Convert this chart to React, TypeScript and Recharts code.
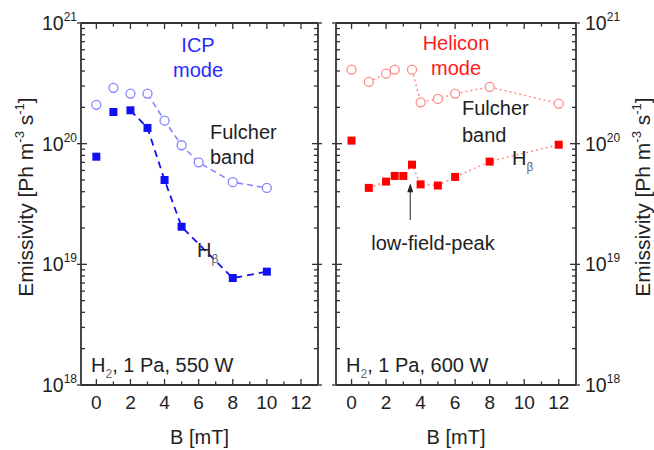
import { ComposedChart, Line, Scatter, XAxis, YAxis, ReferenceLine, Label } from 'recharts'

// ICP mode (550 W)
const icpFulcherB = [0, 1, 2, 3, 4, 5, 6, 8, 10]
const icpFulcher = [2.1e20, 2.9e20, 2.6e20, 2.6e20, 1.55e20, 9.7e19, 7.0e19, 4.8e19, 4.3e19]
const icpHbetaB = [0, 1, 2, 3, 4, 5, 8, 10]
const icpHbeta = [7.8e19, 1.83e20, 1.89e20, 1.35e20, 5.0e19, 2.05e19, 7.7e18, 8.7e18]

// Helicon mode (600 W)
const helFulcherB = [0, 1, 2, 2.5, 3.5, 4, 5, 6, 8, 12]
const helFulcher = [4.1e20, 3.25e20, 3.8e20, 4.1e20, 4.1e20, 2.2e20, 2.35e20, 2.6e20, 2.95e20, 2.15e20]
const helHbetaB = [0, 1, 2, 2.5, 3, 3.5, 4, 5, 6, 8, 12]
const helHbeta = [1.06e20, 4.3e19, 4.85e19, 5.4e19, 5.4e19, 6.7e19, 4.6e19, 4.5e19, 5.3e19, 7.1e19, 9.8e19]

// low-field-peak arrow (B, tail, tip)
const arrowB = 3.4
const arrowY = [2.33e19, 4.7e19]

const xTicks = [0, 1, 2, 3, 4, 5, 6, 7, 8, 9, 10, 11, 12]
const yTicks: number[] = []
for (let e = 18; e < 21; e++) for (let m = 1; m < 10; m++) yTicks.push(m * Math.pow(10, e))
yTicks.push(1e21)

const FONT = '"Liberation Sans", Arial, sans-serif'
const AXIS = '#333'
const BLUE = '#1010f5'
const LBLUE = '#8585ff'
const RED = '#ff0000'
const LRED = '#ff8c8c'

const pts = (xs: number[], ys: number[], from = 0, to = xs.length) =>
  xs.slice(from, to).map((x, i) => ({ x, y: ys[from + i] }))

const square = (color: string) => (p: any) =>
  <rect x={p.cx - 4} y={p.cy - 4} width={8} height={8} fill={color} />
const ring = (color: string) => (p: any) =>
  <circle cx={p.cx} cy={p.cy} r={4.5} fill="#fff" stroke={color} strokeWidth={1.3} />

function YTick({ x, y, payload, side, labels }: any) {
  const lg = Math.log10(payload.value)
  const exp = Math.round(lg)
  const major = Math.abs(lg - exp) < 1e-6
  const dir = side === 'left' ? 1 : -1
  return (
    <g>
      <line x1={major ? x - dir * 4 : x} x2={x + dir * (major ? 6 : 4)} y1={y} y2={y} stroke={AXIS} strokeWidth={1.3} />
      {labels && major && (
        <text x={side === 'left' ? x - 4 : x + 9} y={y + 7} textAnchor={side === 'left' ? 'end' : 'start'}
          fontSize={19.5} fill="#222" fontFamily={FONT}>
          10<tspan dy={-9} fontSize={12}>{exp}</tspan>
        </text>
      )}
    </g>
  )
}

function XTick({ x, y, payload, side, labels }: any) {
  const major = payload.value % 2 === 0
  const dir = side === 'bottom' ? -1 : 1
  return (
    <g>
      <line x1={x} x2={x} y1={y} y2={y + dir * (major ? 6 : 3.5)} stroke={AXIS} strokeWidth={1.3} />
      {labels && major && (
        <text x={x} y={y + 24} textAnchor="middle" fontSize={19} fill="#222" fontFamily={FONT}>{payload.value}</text>
      )}
    </g>
  )
}

function YTitle({ viewBox, side }: any) {
  const cx = side === 'left' ? viewBox.x + 33 : viewBox.x + viewBox.width - 4
  const cy = 197
  return (
    <text x={cx} y={cy} transform={`rotate(-90, ${cx}, ${cy})`} textAnchor="middle" fontSize={21} fill="#222" fontFamily={FONT}>
      Emissivity [Ph m<tspan dy={-9} fontSize={13}>-3</tspan><tspan dy={9}> s</tspan>
      <tspan dy={-9} fontSize={13}>-1</tspan><tspan dy={9}>]</tspan>
    </text>
  )
}

function Panel({ side, left, children }: any) {
  const isLeft = side === 'left'
  const axisLine = { stroke: AXIS, strokeWidth: 1.8 }
  return (
    <div style={{ position: 'absolute', left, top: 0 }}>
      <ComposedChart width={330} height={450} margin={{ top: 22, right: isLeft ? 11 : 0, bottom: 0, left: isLeft ? 0 : 11 }}>
        <XAxis xAxisId="b" dataKey="x" type="number" domain={[-0.9, 13]} allowDataOverflow ticks={xTicks} interval={0}
          tickSize={0} tickMargin={0} height={65} axisLine={axisLine} tickLine={false}
          tick={(p: any) => <XTick {...p} side="bottom" labels />}>
          <Label content={({ viewBox }: any) => (
            <text x={viewBox.x + viewBox.width / 2} y={viewBox.y + 59} textAnchor="middle" fontSize={20} fill="#222" fontFamily={FONT}>B [mT]</text>
          )} />
        </XAxis>
        <XAxis xAxisId="t" orientation="top" dataKey="x" type="number" domain={[-0.9, 13]} allowDataOverflow ticks={xTicks}
          interval={0} tickSize={0} tickMargin={0} height={1} axisLine={axisLine} tickLine={false}
          tick={(p: any) => <XTick {...p} side="top" />} />
        <YAxis yAxisId="l" orientation="left" dataKey="y" type="number" scale="log" domain={[1e18, 1e21]} allowDataOverflow
          ticks={yTicks} interval={0} tickSize={0} tickMargin={0} width={isLeft ? 81 : 1} axisLine={axisLine} tickLine={false}
          tick={(p: any) => <YTick {...p} side="left" labels={isLeft} />}>
          {isLeft && <Label content={(p: any) => <YTitle {...p} side="left" />} />}
        </YAxis>
        <YAxis yAxisId="r" orientation="right" dataKey="y" type="number" scale="log" domain={[1e18, 1e21]} allowDataOverflow
          ticks={yTicks} interval={0} tickSize={0} tickMargin={0} width={isLeft ? 1 : 78} axisLine={axisLine} tickLine={false}
          tick={(p: any) => <YTick {...p} side="right" labels={!isLeft} />}>
          {!isLeft && <Label content={(p: any) => <YTitle {...p} side="right" />} />}
        </YAxis>
        {children}
      </ComposedChart>
    </div>
  )
}

const sub = { xAxisId: 'b', isAnimationActive: false }

export default function App() {
  return (
    <div style={{ position: 'absolute', left: 0, top: 0, width: 654, height: 450, background: '#fff', fontFamily: FONT }}>
      <Panel side="left" left={0}>
        <Line {...sub} yAxisId="l" data={pts(icpFulcherB, icpFulcher, 3)} dataKey="y" stroke={LBLUE} strokeWidth={1.6}
          strokeDasharray="6 4" dot={false} activeDot={false} />
        <Line {...sub} yAxisId="l" data={pts(icpHbetaB, icpHbeta, 2)} dataKey="y" stroke={BLUE} strokeWidth={1.8}
          strokeDasharray="7 5" dot={false} activeDot={false} />
        <Scatter {...sub} yAxisId="l" data={pts(icpFulcherB, icpFulcher)} shape={ring(LBLUE)} />
        <Scatter {...sub} yAxisId="l" data={pts(icpHbetaB, icpHbeta)} shape={square(BLUE)} />
      </Panel>
      <Panel side="right" left={324}>
        <Line {...sub} yAxisId="r" data={pts(helFulcherB, helFulcher, 1, 4)} dataKey="y" stroke={LRED} strokeWidth={1.5}
          strokeDasharray="2 3" dot={false} activeDot={false} />
        <Line {...sub} yAxisId="r" data={pts(helFulcherB, helFulcher, 4)} dataKey="y" stroke={LRED} strokeWidth={1.5}
          strokeDasharray="2 3" dot={false} activeDot={false} />
        <Line {...sub} yAxisId="r" data={pts(helHbetaB, helHbeta, 1)} dataKey="y" stroke={LRED} strokeWidth={1.5}
          strokeDasharray="2 3" dot={false} activeDot={false} />
        <Scatter {...sub} yAxisId="r" data={pts(helFulcherB, helFulcher)} shape={ring(LRED)} />
        <Scatter {...sub} yAxisId="r" data={pts(helHbetaB, helHbeta)} shape={square(RED)} />
        <ReferenceLine xAxisId="b" yAxisId="r" segment={[{ x: arrowB, y: arrowY[0] }, { x: arrowB, y: arrowY[1] }]}
          shape={(p: any) => (
            <g>
              <line x1={p.x1} y1={p.y1} x2={p.x2} y2={p.y2 + 7} stroke="#222" strokeWidth={1} />
              <path d={`M${p.x2},${p.y2} L${p.x2 - 3},${p.y2 + 9} L${p.x2 + 3},${p.y2 + 9} Z`} fill="#222" />
            </g>
          )} />
      </Panel>
      <svg width={654} height={450} style={{ position: 'absolute', left: 0, top: 0, pointerEvents: 'none' }}
        fontFamily={FONT} fontSize={20}>
        <text x={198} y={52} textAnchor="middle" fill="#2a2aff">ICP</text>
        <text x={198} y={77} textAnchor="middle" fill="#2a2aff">mode</text>
        <text x={210} y={139} fill="#222">Fulcher</text>
        <text x={210} y={164} fill="#222">band</text>
        <text x={197} y={257} fill="#222">H<tspan dy={6} fontSize={12} fill="#666">β</tspan></text>
        <text x={91} y={372} fill="#222">H<tspan dy={6} fontSize={12} fill="#666">2</tspan><tspan dy={-6}>, 1 Pa, 550 W</tspan></text>
        <text x={456} y={50} textAnchor="middle" fill="#ff1a1a">Helicon</text>
        <text x={456} y={75} textAnchor="middle" fill="#ff1a1a">mode</text>
        <text x={462} y={115} fill="#222">Fulcher</text>
        <text x={462} y={142} fill="#222">band</text>
        <text x={512} y={165} fill="#222">H<tspan dy={6} fontSize={12} fill="#666">β</tspan></text>
        <text x={433} y={250} textAnchor="middle" fill="#222">low-field-peak</text>
        <text x={346} y={372} fill="#222">H<tspan dy={6} fontSize={12} fill="#666">2</tspan><tspan dy={-6}>, 1 Pa, 600 W</tspan></text>
      </svg>
    </div>
  )
}
